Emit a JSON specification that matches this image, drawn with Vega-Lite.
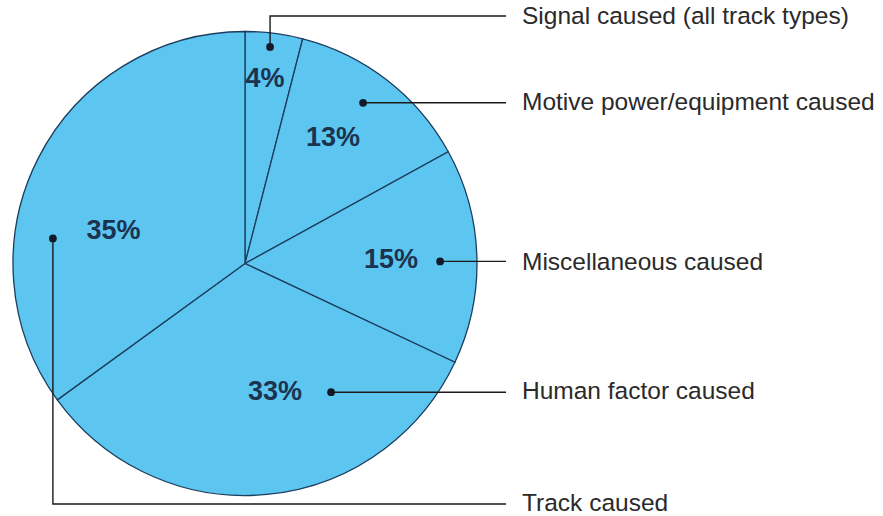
{
  "$schema": "https://vega.github.io/schema/vega-lite/v6.json",
  "width": 883,
  "height": 516,
  "padding": 0,
  "autosize": {"type": "fit", "contains": "padding"},
  "background": "white",
  "config": {"view": {"stroke": null}},
  "datasets": {
    "slices": [
      {"cause": "Signal caused (all track types)", "pct": 4, "ord": 1, "x": 0, "y": 0},
      {"cause": "Motive power/equipment caused", "pct": 13, "ord": 2, "x": 0, "y": 0},
      {"cause": "Miscellaneous caused", "pct": 15, "ord": 3, "x": 0, "y": 0},
      {"cause": "Human factor caused", "pct": 33, "ord": 4, "x": 0, "y": 0},
      {"cause": "Track caused", "pct": 35, "ord": 5, "x": 0, "y": 0}
    ],
    "leaders": [
      {"grp": "Signal", "seq": 1, "x": 0.108, "y": 0.935},
      {"grp": "Signal", "seq": 2, "x": 0.108, "y": 1.069},
      {"grp": "Signal", "seq": 3, "x": 1.125, "y": 1.069},
      {"grp": "Motive", "seq": 1, "x": 0.509, "y": 0.694},
      {"grp": "Motive", "seq": 2, "x": 1.125, "y": 0.694},
      {"grp": "Misc", "seq": 1, "x": 0.841, "y": 0.009},
      {"grp": "Misc", "seq": 2, "x": 1.125, "y": 0.009},
      {"grp": "Human", "seq": 1, "x": 0.371, "y": -0.556},
      {"grp": "Human", "seq": 2, "x": 1.125, "y": -0.556},
      {"grp": "Track", "seq": 1, "x": -0.828, "y": 0.108},
      {"grp": "Track", "seq": 2, "x": -0.828, "y": -1.039},
      {"grp": "Track", "seq": 3, "x": 1.125, "y": -1.039}
    ],
    "dots": [
      {"x": 0.108, "y": 0.935},
      {"x": 0.509, "y": 0.694},
      {"x": 0.841, "y": 0.009},
      {"x": 0.371, "y": -0.556},
      {"x": -0.828, "y": 0.108}
    ],
    "names": [
      {"label": "Signal caused (all track types)", "x": 1.194, "y": 1.065},
      {"label": "Motive power/equipment caused", "x": 1.194, "y": 0.694},
      {"label": "Miscellaneous caused", "x": 1.194, "y": 0.0},
      {"label": "Human factor caused", "x": 1.194, "y": -0.556},
      {"label": "Track caused", "x": 1.194, "y": -1.039}
    ],
    "pcts": [
      {"label": "4%", "x": 0.086, "y": 0.797},
      {"label": "13%", "x": 0.379, "y": 0.543},
      {"label": "15%", "x": 0.629, "y": 0.013},
      {"label": "33%", "x": 0.129, "y": -0.556},
      {"label": "35%", "x": -0.567, "y": 0.142}
    ]
  },
  "encoding": {
    "x": {"field": "x", "type": "quantitative", "scale": {"domain": [-1.056, 2.75], "nice": false, "zero": false}, "axis": null},
    "y": {"field": "y", "type": "quantitative", "scale": {"domain": [-1.0862, 1.1379], "nice": false, "zero": false}, "axis": null}
  },
  "layer": [
    {
      "data": {"name": "slices"},
      "mark": {"type": "arc", "outerRadius": 232, "fill": "#5dc6f0", "stroke": "#1b3d5e", "strokeWidth": 1.3},
      "encoding": {
        "theta": {"field": "pct", "type": "quantitative", "stack": true},
        "order": {"field": "ord", "type": "quantitative"}
      }
    },
    {
      "data": {"name": "leaders"},
      "mark": {"type": "line", "color": "#1a1a1a", "strokeWidth": 1.4},
      "encoding": {
        "detail": {"field": "grp"},
        "order": {"field": "seq", "type": "quantitative"}
      }
    },
    {
      "data": {"name": "dots"},
      "mark": {"type": "point", "filled": true, "size": 60, "color": "#111a26", "opacity": 1}
    },
    {
      "data": {"name": "names"},
      "mark": {"type": "text", "align": "left", "baseline": "middle", "font": "Liberation Sans", "fontSize": 24.5, "color": "#2a2a2a"},
      "encoding": {"text": {"field": "label"}}
    },
    {
      "data": {"name": "pcts"},
      "mark": {"type": "text", "align": "center", "baseline": "middle", "font": "Liberation Sans", "fontSize": 27, "fontWeight": "bold", "color": "#1c3350"},
      "encoding": {"text": {"field": "label"}}
    }
  ]
}
